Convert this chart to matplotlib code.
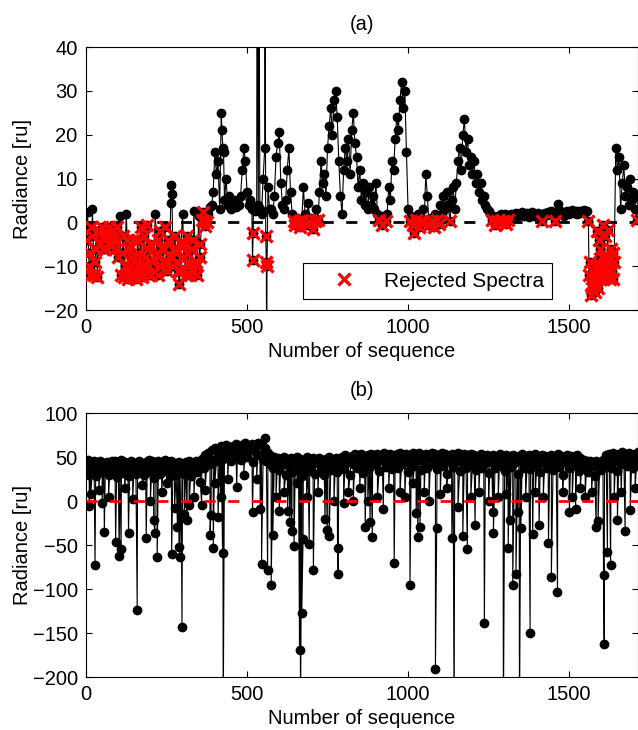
import matplotlib
matplotlib.use("Agg")
import matplotlib.pyplot as plt
import numpy as np

plt.rcParams['font.family'] = ['Liberation Sans', 'DejaVu Sans']
plt.rcParams['font.size'] = 14.5

# sequence numbers of the base samples: 0, 5, 10, ... 1715
seq_step = 5

# (a) radiance, one value per seq_step
rad_a_base = [
    -4, 2.3, -10, -1, 3, -12, -6, -12.5, -2, -5, -1, -4,
    -6, -3, -1, -5, -2, -4, -6, -1, -8, 1.5, -12, -3,
    -10, 2, -13, -6, -11, -4, -9, -13, -4, -12, -1, -10,
    -3, -8, -0.5, -12, -5, -9, -11, 2, -7, -12, -2, -6,
    -9, -1, -11, -4, -8, 8.5, -10, -3, -7, -11, -14, -5,
    2, -8, -12, -3, -10, -6, -11, 2.5, -9, -12, 1.5, -5,
    0.5, 0.3, -0.8, 0, 2, 3.5, 4, 7, 16, 11, 14, 3,
    25, 17, 5, 10, 4, 6, 3, 4, 5, 3.5, 5, 4,
    6, 12, 17, 14, 7, 4, 5, 3, 3, 2.5, 3, 4,
    3, 2, 10, 17, -9, 8, 3, 3, 2, 6, 15, 18,
    20.5, 9, 4, 3, 5, 12, 17, 7, 2, 0.3, -0.5, 1,
    0.2, -1, 0.5, 8, 2, -0.5, 4.5, 0, 1, -1.5, 0.3, 3,
    0.5, 7, 14, 9, 11, 6, 17, 22, 26, 20, 28, 30,
    24, 14, 6, 2, 12, 17, 14, 19, 11, 21, 25, 18,
    15, 8, 12, 5, 9, 4, 7, 3, 8, 4, 6, 3,
    9, 2, 0.5, 1.5, -0.5, 1, 0.3, 2, 8, 5, 14, 12,
    19, 24, 21, 28, 32, 26, 30, 16, 3, 0.2, 1.5, -0.5,
    -2.5, 0.5, 2, -1, 0.3, 3, 0, 11, 6, -0.5, 1, 0.3,
    -1, 2, 0.5, -0.3, 4, 2, 6, 3, 7, 4, 0.2, 5,
    8, 3, 9, 14, 17, 12, 20, 23.5, 16, 19, 13, 15,
    11, 14, 9, 11, 7, 9, 5, 6, 4, 3, 2.5, 2,
    0.5, 1.5, -0.5, 0.3, 1.5, 0, 1.8, 0.2, 2, -0.3, 0.5, 1.6,
    2, 1.5, 1.8, 2.2, 1.4, 2, 1.6, 2.4, 1.5, 1.9, 2.1, 1.3,
    1.8, 2.3, 1.5, 2, 1.7, 2.2, 1.4, 0.2, 1.9, 2.1, 1.6, 2.4,
    1.8, 2.5, 1.6, 0.3, 2.2, 4.2, 2.8, 1.9, 2.3, 1.5, 2.1, 2.6,
    1.8, 2.4, 2.9, 2.1, 2.6, 1.9, 2.7, 2.2, 2.5, 2.8, 2.3, 2.6,
    0.3, -9, -14, -11, -16, -12, -15, -10, -13, -0.5, -3, -8,
    -1.8, -11, -6, -13, -9, 17, 12, 15, 3, 9, 13, 6,
    8, 4, 10, 5, 7, 3, 0.5, 6,
]

# (a) extra samples between the base ones (spikes and dense parts)
extra_seq_a = [8, 13, 18, 28, 33, 43, 53, 63, 78, 88, 113, 118, 128, 138, 143,
               153, 163, 173, 183, 193, 203, 223, 233, 243, 253, 263, 267, 273,
               283, 293, 303, 313, 323, 333, 343, 353, 363, 422, 427, 517, 519,
               531, 537, 556, 558, 561, 562, 1562, 1567, 1572, 1577, 1582, 1587,
               1592, 1597, 1602, 1607, 1612, 1617, 1622, 1627, 1632, 1637]
extra_rad_a = [-7, -12, -3, -9, -2, -4.5, -6, -2.5, -5.5, -3, -7, -12.5, -4, -12, -8,
               -11, -7, -12.5, -10, -6, -12, -4, -10, -6, -9, 4.5, 6.5, -6,
               -9, -11, -5, -7, -12, -4, -10, -8, 2.4, 21, 16, -8.5, -2.5,
               60, 60, 60, -3, -40, -10, -12, -16.5, -15, -13, -10, -2,
               -4, -6, -8, -10, -11, -12.5, -9, -13, -11, -7]
# extra samples that were rejected although above the limit
forced_reject_seq_a = [363]

reject_limit = 0.8

# (b) radiance, one value per seq_step
rad_b_base = [
    40, 47, 30, 44, 35, 46, 28, 42, 38, 45, 33, 43,
    36, 44, 30, 41, 46, 34, 45, 27, 43, 38, 47, 32,
    44, 36, 42, 29, 45, 38, 43, 31, 40, 46, 35, 42,
    30, 44, 38, 47, 33, 45, 26, 43, 37, 46, 31, 44,
    39, 47, 34, 42, 28, 45, 36, 43, 30, 41, 44, 35,
    42, 31, 44, 38, 45, 29, 43, 36, 46, 33, 44, 40,
    48, 38, 52, 44, 55, 42, 58, 47, 60, 45, 56, 50,
    62, 48, 58, 64, 50, 61, 45, 63, 55, 65, 52, 60,
    47, 64, 56, 66, 50, 62, 58, 65, 44, 63, 54, 66,
    52, 64, 48, 60, 45, 55, 42, 51, 38, 50, 46, 49,
    35, 48, 42, 50, 30, 47, 40, 49, 33, 46, 44, 50,
    38, 48, 28, 46, 42, 50, 34, 47, 40, 49, 31, 45,
    43, 49, 36, 47, 30, 48, 41, 50, 35, 46, 44, 49,
    33, 47, 40, 50, 36, 52, 44, 49, 30, 51, 42, 53,
    38, 50, 45, 53, 32, 49, 43, 52, 37, 54, 46, 50,
    41, 53, 34, 51, 47, 55, 39, 52, 44, 54, 36, 51,
    45, 53, 38, 55, 42, 51, 48, 54, 33, 52, 46, 55,
    40, 53, 47, 55, 35, 52, 44, 54, 38, 51, 49, 55,
    42, 54, 36, 52, 47, 55, 40, 53, 31, 51, 45, 54,
    39, 52, 46, 55, 34, 51, 43, 54, 37, 52, 48, 53,
    41, 52, 35, 50, 45, 53, 38, 51, 43, 52, 32, 50,
    44, 52, 37, 51, 46, 53, 40, 50, 34, 52, 45, 51,
    39, 52, 43, 50, 31, 51, 46, 53, 38, 50, 42, 52,
    36, 51, 45, 53, 40, 50, 33, 52, 44, 51, 38, 50,
    46, 52, 35, 50, 42, 53, 39, 51, 30, 50, 44, 52,
    37, 51, 45, 50, 40, 52, 34, 49, 43, 47, 38, 46,
    33, 45, 40, 44, 29, 46, 38, 43, 35, 47, 41, 52,
    44, 53, 38, 55, 46, 52, 34, 54, 42, 56, 48, 53,
    40, 55, 45, 52, 37, 54, 44, 56,
]

# (b) drop-outs and other single samples
dip_seq_b = [10, 15, 28, 40, 50, 57, 70, 92, 103, 109, 120, 132, 145, 159, 175,
             187, 200, 210, 214, 221, 235, 250, 266, 275, 284, 289, 291, 298,
             305, 313, 320, 335, 355, 359, 370, 385, 388, 395, 400, 410, 418,
             424, 426, 440, 468, 490, 517, 530, 541, 545, 557, 564, 575, 580,
             590, 600, 615, 626, 633, 639, 646, 655, 663, 666, 670, 674, 685,
             693, 706, 720, 742, 749, 755, 770, 781, 783, 800, 815, 830, 850,
             867, 875, 882, 889, 905, 923, 940, 957, 975, 990, 1006, 1015,
             1025, 1030, 1037, 1050, 1065, 1085, 1089, 1100, 1120, 1136, 1143,
             1155, 1170, 1184, 1195, 1208, 1220, 1237, 1250, 1263, 1265, 1280,
             1296, 1305, 1311, 1316, 1325, 1335, 1340, 1346, 1350, 1365, 1379,
             1387, 1395, 1407, 1420, 1436, 1445, 1464, 1480, 1501, 1510, 1520,
             1535, 1550, 1570, 1584, 1590, 1607, 1609, 1619, 1629, 1640, 1650,
             1662, 1674, 1690, 1705]
dip_rad_b = [-6, 8, -73, 12, -2, -35, 5, -47, -62, -54, 15, -36, 2, -124, 18,
             -42, 0, -22, -36, -64, 10, 20, -60, -8, -30, -52, -64, -143,
             -15, -21, -5, 5, 22, -4, 12, -39, -16, -53, 20, -18, 5,
             -59, -260, 25, 16, 30, -13, 25, -9, -72, 72, -78, -96, -39,
             5, -11, 10, -11, -24, -34, -51, 20, -169, -260, -127, -43, 5,
             -49, -78, 10, -20, -33, -40, 0, -53, -83, -2, 10, 0, 15,
             -29, 0, -24, -41, 5, -9, 15, -71, 10, 5, -96, 20,
             -14, -41, -29, 10, 0, -191, -31, 8, 15, -42, -260,
             -7, -40, -55, 5, -27, 10, -139, 0, -12, -36, 5,
             -260, 8, -53, -22, -96, -83, -12, -260, -31, 5, -150,
             -38, 10, -27, 5, -48, -86, -103, 10, -12, 5, -9,
             15, 5, 10, -29, -23, -84, -162, -58, -73, 5, -22,
             10, -34, -10, 15]


def merge_samples(base, extra_seq, extra_rad):
    seq = np.arange(len(base)) * seq_step
    s = np.concatenate([seq, extra_seq])
    r = np.concatenate([np.asarray(base, float), np.asarray(extra_rad, float)])
    order = np.argsort(s, kind='stable')
    return s[order], r[order]


def style_axes(ax, ylim, yticks, title):
    ax.set_xlim(0, 1714)
    ax.set_ylim(*ylim)
    ax.set_xticks([0, 500, 1000, 1500])
    ax.set_yticks(yticks)
    ax.tick_params(direction='in', top=True, right=True, length=4, width=0.8,
                   pad=6)
    for sp in ax.spines.values():
        sp.set_linewidth(0.8)
    ax.set_title(title, pad=12, fontsize=14.5)
    ax.set_xlabel('Number of sequence', labelpad=3)
    ax.set_ylabel('Radiance [ru]')
    ax.yaxis.set_label_coords(-0.097, 0.5)


fig = plt.figure(figsize=(6.38, 7.30), dpi=100)

# ---- (a)
ax1 = fig.add_axes([0.1348, 0.5753, 0.8652, 0.3603])
seq_a, rad_a = merge_samples(rad_a_base, extra_seq_a, extra_rad_a)
ax1.plot(seq_a, rad_a, '-o', color='k', lw=0.8, ms=6, zorder=2)
ax1.axhline(0, color='k', lw=2, dashes=(4, 4.5), zorder=3)
rej = (rad_a < reject_limit) | np.isin(seq_a, forced_reject_seq_a)
ax1.plot(seq_a[rej], rad_a[rej], 'x', color='red', ms=8.5, mew=2.4,
         label='Rejected Spectra', zorder=4)
style_axes(ax1, (-20, 40), [-20, -10, 0, 10, 20, 30, 40], '(a)')
leg = ax1.legend(loc='lower right', bbox_to_anchor=(0.845, 0.042),
                 borderaxespad=0, fancybox=False, edgecolor='k', framealpha=1,
                 handlelength=3.2, handletextpad=0.3, borderpad=0.4,
                 fontsize=15)
leg.get_frame().set_linewidth(0.8)

# ---- (b)
ax2 = fig.add_axes([0.1348, 0.0726, 0.8652, 0.3616])
seq_b, rad_b = merge_samples(rad_b_base, dip_seq_b, dip_rad_b)
ax2.plot(seq_b, rad_b, '-o', color='k', lw=0.8, ms=6, zorder=2)
ax2.axhline(0, color='red', lw=2, dashes=(4, 4.5), zorder=3)
style_axes(ax2, (-200, 100), [-200, -150, -100, -50, 0, 50, 100], '(b)')

fig.savefig('out.png', dpi=100)
